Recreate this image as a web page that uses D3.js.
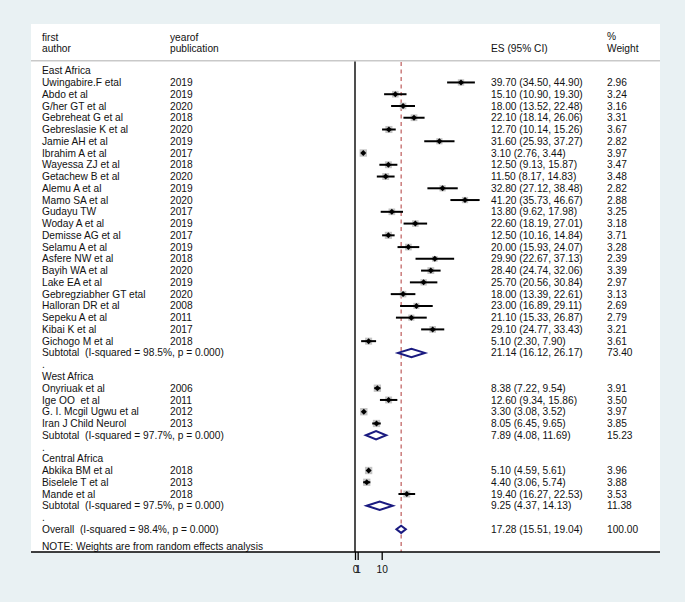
<!DOCTYPE html>
<html><head><meta charset="utf-8">
<script src="https://cdn.jsdelivr.net/npm/d3@7"></script>
<style>
html,body{margin:0;padding:0;background:#e9f1f3;}
svg{display:block;font-family:"Liberation Sans",Arial,sans-serif;}
svg text{white-space:pre;}
</style></head>
<body>
<svg id="chart" width="685" height="602"></svg>
<script>
// ---------- data ----------
const regions = ["East Africa", "West Africa", "Central Africa"];

const authors = [
  "Uwingabire.F etal","Abdo et al","G/her GT et al","Gebreheat G et al","Gebreslasie K et al",
  "Jamie AH et al","Ibrahim A et al","Wayessa ZJ et al","Getachew B et al","Alemu A et al",
  "Mamo SA et al","Gudayu TW","Woday A et al","Demisse AG et al","Selamu A et al",
  "Asfere NW et al","Bayih WA et al","Lake EA et al","Gebregziabher GT etal","Halloran DR et al",
  "Sepeku A et al","Kibai K et al","Gichogo M et al",
  "Onyriuak et al","Ige OO  et al","G. I. Mcgil Ugwu et al","Iran J Child Neurol",
  "Abkika BM et al","Biselele T et al","Mande et al"
];
const years = [
  "2019","2019","2020","2018","2020","2019","2017","2018","2020","2019",
  "2020","2017","2019","2017","2019","2018","2020","2019","2020","2008",
  "2011","2017","2018",
  "2006","2011","2012","2013",
  "2018","2013","2018"
];
const regionOf = [
  0,0,0,0,0,0,0,0,0,0,0,0,0,0,0,0,0,0,0,0,0,0,0,
  1,1,1,1,
  2,2,2
];
const es = [
  39.70,15.10,18.00,22.10,12.70,31.60,3.10,12.50,11.50,32.80,
  41.20,13.80,22.60,12.50,20.00,29.90,28.40,25.70,18.00,23.00,
  21.10,29.10,5.10,
  8.38,12.60,3.30,8.05,
  5.10,4.40,19.40
];
const lo = [
  34.50,10.90,13.52,18.14,10.14,25.93,2.76,9.13,8.17,27.12,
  35.73,9.62,18.19,10.16,15.93,22.67,24.74,20.56,13.39,16.89,
  15.33,24.77,2.30,
  7.22,9.34,3.08,6.45,
  4.59,3.06,16.27
];
const hi = [
  44.90,19.30,22.48,26.06,15.26,37.27,3.44,15.87,14.83,38.48,
  46.67,17.98,27.01,14.84,24.07,37.13,32.06,30.84,22.61,29.11,
  26.87,33.43,7.90,
  9.54,15.86,3.52,9.65,
  5.61,5.74,22.53
];
const weights = [
  "2.96","3.24","3.16","3.31","3.67","2.82","3.97","3.47","3.48","2.82",
  "2.88","3.25","3.18","3.71","3.28","2.39","3.39","2.97","3.13","2.69",
  "2.79","3.21","3.61",
  "3.91","3.50","3.97","3.85",
  "3.96","3.88","3.53"
];

const subtotalLabels = [
  "Subtotal  (I-squared = 98.5%, p = 0.000)",
  "Subtotal  (I-squared = 97.7%, p = 0.000)",
  "Subtotal  (I-squared = 97.5%, p = 0.000)"
];
const subES = [21.14, 7.89, 9.25];
const subLo = [16.12, 4.08, 4.37];
const subHi = [26.17, 11.69, 14.13];
const subW = ["73.40", "15.23", "11.38"];

const overallLabel = "Overall  (I-squared = 98.4%, p = 0.000)";
const overallES = 17.28, overallLo = 15.51, overallHi = 19.04, overallW = "100.00";

const tickValues = [0, 1, 10];
const noteText = "NOTE: Weights are from random effects analysis";

// ---------- build rows ----------
const rows = [];
regions.forEach((r, ri) => {
  if (ri > 0) rows.push({type: "dot"});
  rows.push({type: "head", label: r});
  authors.forEach((a, i) => {
    if (regionOf[i] === ri) rows.push({type: "study", label: a, year: years[i], es: es[i], lo: lo[i], hi: hi[i], w: weights[i]});
  });
  rows.push({type: "sub", label: subtotalLabels[ri], es: subES[ri], lo: subLo[ri], hi: subHi[ri], w: subW[ri]});
});
rows.push({type: "dot"});
rows.push({type: "overall", label: overallLabel, es: overallES, lo: overallLo, hi: overallHi, w: overallW});

// ---------- layout ----------
const svg = d3.select("#chart");
const panel = {x0: 31, x1: 660, y0: 24, y1: 552};
const xAuthor = 42, xYear = 170, xES = 491, xW = 607;
const x = d3.scaleLinear().domain([0, 10]).range([355, 381.7]);
const y = d3.scaleLinear().domain([0, rows.length - 1]).range([70.7, 529.3]);
const fs = 10.2;

svg.append("rect").attr("x", panel.x0).attr("y", panel.y0)
  .attr("width", panel.x1 - panel.x0).attr("height", panel.y1 - panel.y0).attr("fill", "#fff");

function txt(xx, yy, s, anchor) {
  return svg.append("text").attr("x", xx).attr("y", yy).attr("dy", "0.35em")
    .attr("xml:space", "preserve")
    .attr("font-size", fs).attr("fill", "#111").attr("text-anchor", anchor || "start").text(s);
}

// header
txt(xAuthor, 37, "first");
txt(xAuthor, 48.3, "author");
txt(xYear, 37, "yearof");
txt(xYear, 48.3, "publication");
txt(xES, 48.3, "ES (95% CI)");
txt(xW, 36, "%");
txt(xW, 48.3, "Weight");

svg.append("line").attr("x1", panel.x0).attr("x2", panel.x1).attr("y1", 60.7).attr("y2", 60.7)
  .attr("stroke", "#c9c9c9").attr("stroke-width", 1.6);

// overall reference line (dashed)
svg.append("line").attr("x1", x(overallES)).attr("x2", x(overallES))
  .attr("y1", 62).attr("y2", panel.y1)
  .attr("stroke", "#b03a3a").attr("stroke-width", 1).attr("stroke-dasharray", "4,3.5");

// null line
svg.append("line").attr("x1", x(0)).attr("x2", x(0)).attr("y1", 61.5).attr("y2", panel.y1)
  .attr("stroke", "#222").attr("stroke-width", 1.6);

// rows
rows.forEach((r, i) => {
  const yy = y(i);
  if (r.type === "dot") { txt(xAuthor, yy, "."); return; }
  if (r.type === "head") { txt(xAuthor, yy, r.label); return; }
  txt(xAuthor, yy, r.label);
  if (r.year) txt(xYear, yy, r.year);
  txt(xES, yy, `${r.es.toFixed(2)} (${r.lo.toFixed(2)}, ${r.hi.toFixed(2)})`);
  txt(xW, yy, r.w);
  if (r.type === "study") {
    const s = 3.7 * Math.sqrt(+r.w);
    svg.append("rect").attr("x", x(r.es) - s / 2).attr("y", yy - s / 2)
      .attr("width", s).attr("height", s).attr("fill", "#c4c4c4");
    svg.append("line").attr("x1", x(r.lo)).attr("x2", x(r.hi)).attr("y1", yy).attr("y2", yy)
      .attr("stroke", "#000").attr("stroke-width", 2);
    const d = 3;
    svg.append("path").attr("d", `M${x(r.es) - d},${yy}L${x(r.es)},${yy - d}L${x(r.es) + d},${yy}L${x(r.es)},${yy + d}Z`)
      .attr("fill", "#000");
  } else {
    const h = r.type === "overall" ? 3.6 : 4.2;
    svg.append("path")
      .attr("d", `M${x(r.lo)},${yy}L${x(r.es)},${yy - h}L${x(r.hi)},${yy}L${x(r.es)},${yy + h}Z`)
      .attr("fill", "#fff").attr("stroke", "#1a1a80").attr("stroke-width", 2);
  }
});

txt(xAuthor, 546.8, noteText);

// bottom axis line
svg.append("line").attr("x1", panel.x0).attr("x2", panel.x1).attr("y1", panel.y1).attr("y2", panel.y1)
  .attr("stroke", "#000").attr("stroke-width", 1.5);

// ticks
const axis = d3.axisBottom(x).tickValues(tickValues).tickSize(8).tickPadding(6).tickFormat(d3.format("d"));
const gAx = svg.append("g").attr("transform", `translate(0,${panel.y1})`).call(axis);
gAx.select(".domain").remove();
gAx.selectAll(".tick line").attr("stroke", "#000").attr("stroke-width", 1.3);
gAx.selectAll(".tick text").attr("font-size", fs).attr("font-family", "Liberation Sans, Arial, sans-serif").attr("fill", "#111");
</script>
</body></html>
